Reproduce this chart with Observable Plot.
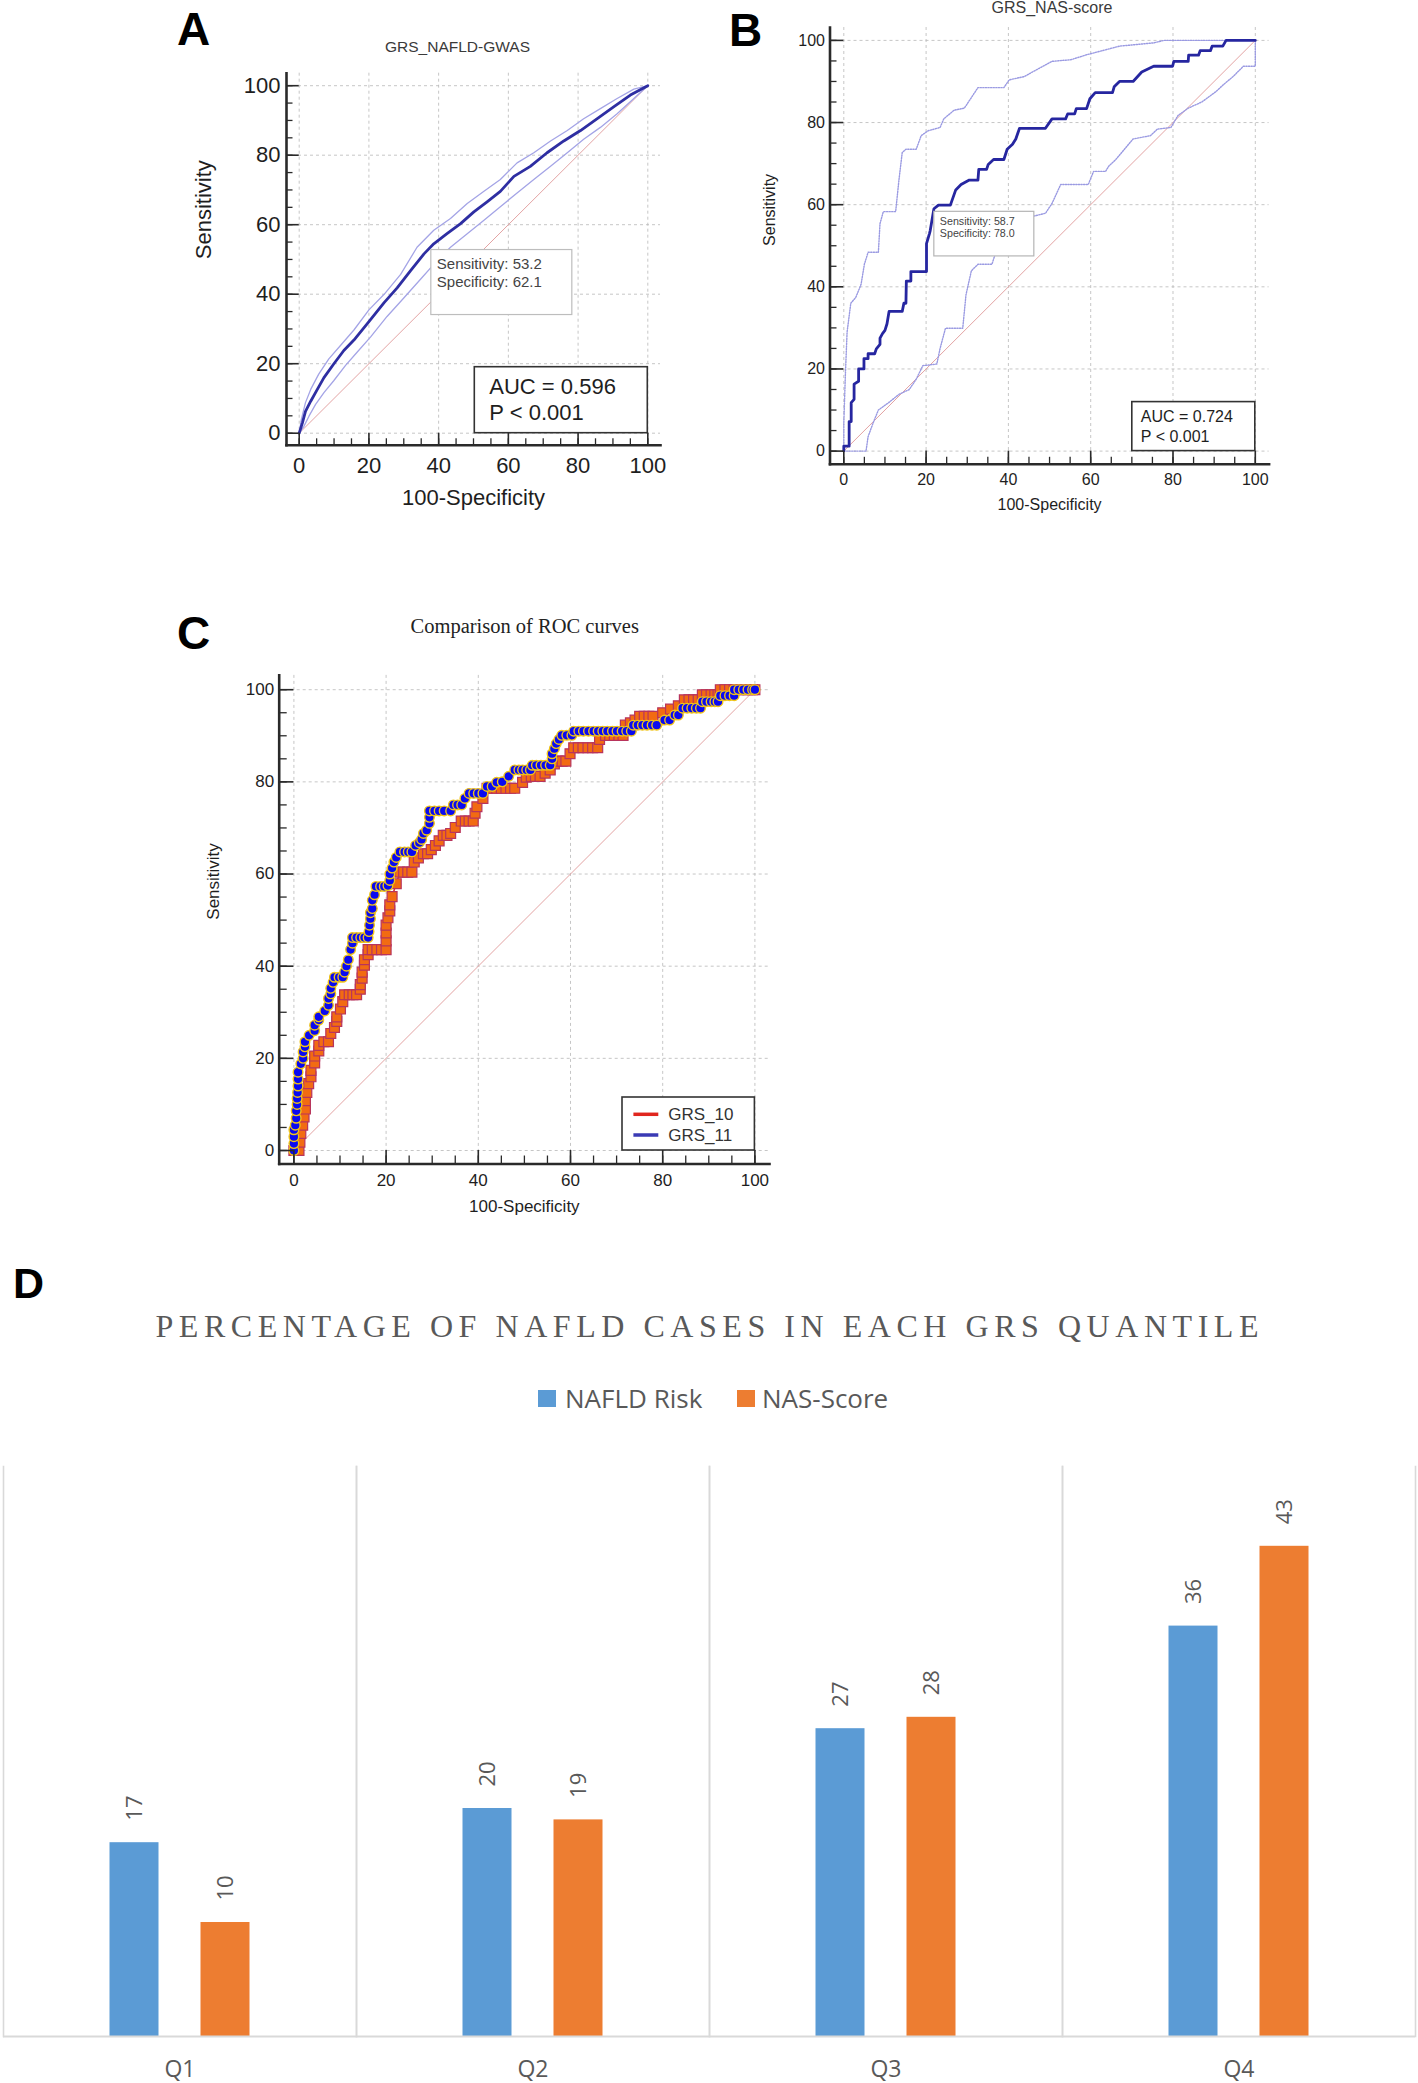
<!DOCTYPE html>
<html><head><meta charset="utf-8">
<script src="https://cdn.jsdelivr.net/npm/d3@7"></script>
<script src="https://cdn.jsdelivr.net/npm/@observablehq/plot@0.6"></script>
<style>
html,body{margin:0;padding:0;background:#fff;}
#root{position:relative;width:1418px;height:2083px;overflow:hidden;background:#fff;}
#root svg{position:absolute;max-width:none;}
</style></head>
<body><div id="root"></div>
<script>
// ================= DATA =================
const majorTicks = [0, 20, 40, 60, 80, 100];
const minorTicks = [0, 5, 10, 15, 20, 25, 30, 35, 40, 45, 50, 55, 60, 65, 70, 75, 80, 85, 90, 95, 100];
const diagonal = [[0, 0], [100, 100]];

// Panel A: GRS_NAFLD-GWAS  (x = 100-Specificity, y = Sensitivity)
const aTitle = "GRS_NAFLD-GWAS";
const aMain = [[0,0],[0.9,2.9],[1.8,6.3],[3.3,9.2],[5.2,12.6],[7.1,16],[9.9,19.9],[12.8,23.8],[15.7,26.8],[20,32.1],[24.3,37.5],[28.1,41.8],[31.9,46.7],[35.8,51.6],[38.6,54.5],[42.4,57.4],[46.3,60.3],[50.1,63.7],[53.9,66.6],[57.7,69.6],[61.6,73.9],[66.3,76.8],[71.1,80.7],[75.9,84.1],[80.7,87.1],[85.5,90.5],[90.2,93.9],[95,97.3],[100,100]];
const aUpper = [[0,0],[0.6,3.9],[1.8,8.8],[3.3,12.6],[5.6,17],[8.5,21.4],[11.9,25.3],[15.7,29.7],[20,35.5],[24.3,39.9],[29.1,45.7],[33.8,53.5],[38.6,58.4],[43.4,61.8],[48.2,66.1],[53,69.6],[57.7,73],[62.5,77.8],[67.3,80.7],[72.1,84.1],[76.9,87.1],[81.6,90.5],[86.4,93.4],[91.2,96.3],[96,99],[100,100]];
const aLower = [[0,0],[1.3,1.9],[2.8,4.9],[4.7,8.3],[7.1,11.7],[9.9,15.1],[13.3,19.5],[16.6,23.3],[20.5,27.7],[25.2,33.6],[30,38.9],[34.8,44.3],[38.6,48.6],[43.4,53.5],[48.2,57.4],[53,61.3],[57.7,65.2],[62.5,69.1],[67.3,73],[72.1,76.8],[76.9,80.7],[81.6,84.6],[86.4,88],[91.2,91.9],[96,96.3],[100,100]];
const aCutoff = [37.9, 53.2];            // [100-specificity, sensitivity]
const aCutoffText = ["Sensitivity: 53.2", "Specificity: 62.1"];
const aAucText = ["AUC = 0.596", "P < 0.001"];

// Panel B: GRS_NAS-score
const bTitle = "GRS_NAS-score";
const bMain = [[0,0],[0,1.2],[1.3,1.2],[1.3,7.2],[1.8,7.2],[1.8,11.8],[2.5,12.6],[2.5,16.3],[3.6,17],[3.6,20],[4.9,20],[4.9,22.5],[5.9,22.5],[5.9,23.7],[7.5,23.7],[7.9,24.9],[8.8,26],[8.8,27.5],[9.4,28.6],[10,29.4],[10.5,31],[11,34],[14.2,34],[14.6,36],[15.1,36],[15.2,41.4],[16.3,41.4],[16.3,43.7],[20.1,43.7],[20.1,50.5],[20.8,52.9],[21,53.7],[21.9,59],[23,59.9],[25.9,59.9],[27.2,63.6],[28.5,64.9],[30.5,66],[32.6,66],[32.8,68.6],[34.7,68.6],[35.1,69.8],[36.4,71],[38.9,71],[39.7,73.5],[41,74.7],[41.8,76],[42.7,78.6],[49,78.6],[50.6,80.9],[53.9,80.9],[54.4,82.1],[56.1,82.1],[56.5,83.4],[59,83.4],[59.8,85.8],[61.1,87.3],[65.3,87.3],[65.7,88.7],[67,90],[70.3,90],[72.4,92.3],[75.3,93.7],[79.9,93.7],[80.2,94.9],[83.7,94.9],[83.8,96.4],[86.2,96.4],[86.6,97.5],[89.1,97.5],[89.5,98.6],[92.1,98.6],[92.9,100],[100,100]];
const bUpper = [[0,0],[0,6.8],[0.4,19],[0.8,29],[1.7,36],[2.9,37.4],[4.2,40.6],[5,45.5],[5.9,48.4],[8.4,48.4],[8.8,55.4],[9.6,58.3],[12.6,58.3],[13.4,66],[14.2,72.7],[15.1,73.5],[17.6,73.5],[18.8,76.8],[20.5,78],[23.4,78.8],[24.3,80.9],[26.8,83],[29.3,83.5],[32.6,88.5],[38.9,88.5],[40.2,90.4],[43.9,91.2],[46,92.4],[50.6,94.9],[55.2,95.3],[59,96.5],[62.8,97.5],[67,98.6],[75.3,99.4],[77.8,100],[100,100]];
const bLower = [[0,0],[5.4,0],[5.9,3.5],[7.1,6.8],[8.4,10],[10.9,11.8],[13.4,13.8],[15.9,15],[17.6,17.5],[19.2,20.8],[22.6,21.2],[23.4,25],[24.7,29.9],[28.9,29.9],[29.7,38.1],[31,43.9],[32.6,45.5],[36,45.5],[36.8,48],[39.3,50.5],[41.8,52.1],[45.2,57],[49,57.9],[50.6,60.3],[52.7,64.9],[59.4,64.9],[60.7,68.1],[63.6,68.1],[64.4,69.4],[66.1,71],[68.2,73.5],[70.3,76],[74.5,76.8],[76.2,78.4],[79.5,78.8],[81.2,81.7],[83.7,83.5],[87,85],[90.4,87.5],[92.1,89.1],[94.6,91.2],[97.1,93.7],[100,93.7],[100,100]];
const bCutoff = [22.0, 58.7];
const bCutoffText = ["Sensitivity: 58.7", "Specificity: 78.0"];
const bAucText = ["AUC = 0.724", "P < 0.001"];

// Panel C: Comparison of ROC curves
const cTitle = "Comparison of ROC curves";
const cNames = ["GRS_10", "GRS_11"];
const grs10 = [[0,0],[1.1,0],[1.3,1.8],[1.5,3.7],[1.9,5.5],[2.2,7.3],[2.5,9],[2.5,10.8],[2.8,12.6],[3.2,14.5],[3.7,16],[3.7,17.4],[4.5,19],[4.5,20.5],[5.4,21.6],[5.4,22.8],[6.5,23.6],[7.5,23.6],[8,25.4],[8.8,26.7],[9.3,28],[9.3,29],[10.1,30.7],[10.6,32.3],[11,33.8],[12,33.8],[12.8,33.8],[13.6,33.8],[14.4,35],[14.4,36],[14.8,37.4],[14.8,38.7],[15.3,40.2],[15.3,41.4],[16.1,42.5],[16.1,43.6],[17,43.6],[18,43.6],[19,43.6],[20,43.6],[20,45.5],[20,47.2],[20,48.9],[20.4,50.5],[20.8,52],[20.8,53.3],[21.3,55.1],[22.2,57.9],[23,60.4],[23.8,60.4],[24.7,60.4],[25.6,60.4],[26.1,62.6],[27,63.5],[28.1,64.4],[29,64.4],[29.8,65.3],[30.7,66.2],[31.5,67.2],[32.4,68.4],[33.2,68.4],[34,68.8],[35,70.1],[36.3,71.5],[37.2,71.5],[38,71.5],[38.9,71.5],[39.3,73.2],[39.7,74.6],[41,76.4],[41.9,78.6],[43,78.6],[44,78.6],[45,78.6],[46,78.6],[47,78.6],[47.9,78.6],[49.6,79.9],[50.4,81],[51.5,81.2],[52.4,81.2],[53.4,81.2],[54.5,81.9],[55.6,82.6],[56.5,83.9],[57.3,84.5],[58.2,84.5],[59,84.5],[59.9,86.1],[60.7,87.4],[61.7,87.4],[62.7,87.4],[63.8,87.4],[64.8,87.4],[65.9,87.4],[66.3,89.2],[67.6,90.1],[68.5,90.1],[69.5,90.1],[70.5,90.1],[71.4,90.1],[71.9,92.3],[73,92.8],[74,93.4],[75,94.2],[76,94.2],[77,94.2],[77.9,94.2],[80,95],[81.7,95.8],[83.4,96.5],[84.7,97.8],[85.7,97.8],[86.7,97.8],[87.7,97.8],[88.6,98.9],[89.5,98.9],[90.5,98.9],[91.3,98.9],[92,98.9],[92.5,100],[93.5,100],[94.5,100],[95.5,100],[96.5,100],[97.5,100],[98.5,100],[99.5,100],[100,100]];
const grs11 = [[0,0],[0,1.5],[0,3],[0,4.5],[0.3,5.5],[0.5,7],[0.5,8.6],[0.7,10],[0.7,11.3],[0.8,12.6],[0.9,14],[0.9,15.5],[0.9,17],[1.5,18.8],[2,20],[2,21.4],[2.4,22.5],[2.4,23.6],[3.3,25],[4.5,26],[4.5,27.2],[5.4,28.3],[5.4,29],[6.7,30.3],[7.5,31.5],[7.5,33],[8,34],[8,35.2],[8.5,36.5],[8.8,37.6],[9.8,37.6],[10.6,37.6],[11,38.7],[11.4,40],[11.8,41.4],[12.3,43.6],[12.7,45],[12.7,46.2],[13.6,46.2],[14.5,46.2],[15.3,46.2],[16.1,46.2],[16.3,47.5],[16.4,48.9],[16.6,50.3],[16.6,51.6],[17,52.5],[17,54.3],[17.5,55.5],[17.8,57.3],[18.8,57.3],[19.6,57.3],[20.4,57.5],[20.8,58.6],[20.8,60],[21.3,61.3],[21.7,62.6],[22.2,63.6],[23,64.8],[24,64.8],[24.8,64.8],[25.6,64.8],[26.4,66.2],[27.2,66.8],[27.7,67.5],[28.1,68.8],[28.8,69.5],[29.4,71],[29.4,72.3],[29.4,73.7],[30.5,73.7],[31.5,73.7],[32.6,73.7],[34,73.7],[34.6,75],[35.5,75],[36.4,75],[37.1,76.4],[38,77.5],[39,77.5],[40,77.5],[41,77.5],[41.9,79],[43,79],[44,79.9],[45.2,80],[46.6,81.2],[47.9,82.6],[48.8,82.6],[49.6,82.6],[50.5,82.6],[51.3,82.6],[51.7,83.6],[52.6,83.6],[53.6,83.6],[54.6,83.6],[55.6,83.6],[56,85],[56,86.1],[56.5,87.2],[56.9,88.3],[57.5,89.2],[58.1,90.1],[59.2,90.1],[60.3,90.1],[60.7,91],[61.8,91],[62.8,91],[63.9,91],[65,91],[66,91],[67,91],[68,91],[69.1,91],[70.1,91],[71.2,91],[72.2,91],[73.2,91],[73.6,92.3],[74.6,92.3],[75.6,92.3],[76.6,92.3],[77.7,92.3],[78.7,92.3],[80.4,93.4],[81.5,93.4],[82.6,94.5],[83.4,94.5],[84.3,96],[85.3,96],[86.3,96],[87.3,96],[88.2,96],[88.6,97.4],[89.5,97.4],[90.5,97.4],[91.3,97.4],[92,97.4],[92.5,98.7],[93.5,98.7],[94.5,98.7],[95.5,98.7],[95.5,100],[96.5,100],[97.5,100],[98.5,100],[99.5,100],[100,100]];

// Panel D: bar chart
const dTitle = "PERCENTAGE OF NAFLD CASES IN EACH GRS QUANTILE";
const quantiles = ["Q1", "Q2", "Q3", "Q4"];
const seriesNames = ["NAFLD Risk", "NAS-Score"];
const nafldRisk = [17, 20, 27, 36];
const nasScore = [10, 19, 28, 43];
const seriesColors = ["#5B9BD5", "#ED7D31"];

// ================= HELPERS =================
const root = document.getElementById("root");
const pts = arr => arr.map(([x, y]) => ({x, y}));

function boxMark({ax, ay, corner, w, h, dy = 0, lines, tx, tys, fontSize, stroke, strokeWidth, textFill, legend}) {
  return (index, scales) => {
    const px = scales.x(ax), py = scales.y(ay);
    const left = corner === "tl" ? px : px - w;
    const top = corner === "tl" ? py + dy : py - h;
    const g = d3.create("svg:g");
    g.append("rect").attr("x", left).attr("y", top).attr("width", w).attr("height", h)
      .attr("fill", "#fff").attr("stroke", stroke).attr("stroke-width", strokeWidth);
    lines.forEach((t, i) => {
      if (legend) {
        g.append("line").attr("x1", left + legend.x1).attr("x2", left + legend.x2)
          .attr("y1", top + legend.ys[i]).attr("y2", top + legend.ys[i])
          .attr("stroke", legend.colors[i]).attr("stroke-width", 3.5);
      }
      g.append("text").attr("x", left + tx).attr("y", top + tys[i])
        .attr("font-size", fontSize).attr("fill", textFill).attr("text-anchor", "start")
        .text(t);
    });
    return g.node();
  };
}

function rocPanel(cfg) {
  const {L, T, W, H, frame: [fl, ft, fr, fb], inset: [il, it, ir, ib], tickFont, padY, padX,
    labelFont, yLabelDx, xLabelDy, minorLen, marks} = cfg;
  const gridStyle = {stroke: "#b8b8b8", strokeOpacity: 0.9, strokeDasharray: "3,3", strokeWidth: 0.9};
  const plot = Plot.plot({
    width: W, height: H,
    marginLeft: fl - L, marginTop: ft - T, marginRight: L + W - fr, marginBottom: T + H - fb,
    x: {domain: [0, 100], insetLeft: il, insetRight: ir, axis: null},
    y: {domain: [0, 100], insetTop: it, insetBottom: ib, axis: null},
    style: {fontFamily: "'Liberation Sans', Arial, sans-serif", background: "transparent", overflow: "visible", color: "#222"},
    marks: [
      Plot.gridX(majorTicks, gridStyle),
      Plot.gridY(majorTicks, gridStyle),
      Plot.line(pts(diagonal), {x: "x", y: "y", stroke: "#e3a3a3", strokeWidth: 1}),
      ...marks,
      Plot.frame({anchor: "left", stroke: "#2a2a2a", strokeWidth: 2.6}),
      Plot.frame({anchor: "bottom", stroke: "#2a2a2a", strokeWidth: 2.6}),
      Plot.axisY(majorTicks, {anchor: "left", tickSize: il, dx: il, tickFormat: () => "", label: null, stroke: "#2a2a2a", strokeWidth: 1.6}),
      Plot.axisY(minorTicks, {anchor: "left", tickSize: minorLen, dx: minorLen, tickFormat: () => "", label: null, stroke: "#2a2a2a", strokeWidth: 1.3}),
      Plot.axisX(majorTicks, {anchor: "bottom", tickSize: ib, dy: -ib, tickFormat: () => "", label: null, stroke: "#2a2a2a", strokeWidth: 1.6}),
      Plot.axisX(minorTicks, {anchor: "bottom", tickSize: minorLen, dy: -minorLen, tickFormat: () => "", label: null, stroke: "#2a2a2a", strokeWidth: 1.3}),
      Plot.axisY(majorTicks, {anchor: "left", tickSize: 0, tickPadding: padY, fontSize: tickFont, fill: "#1e1e1e", label: null}),
      Plot.axisX(majorTicks, {anchor: "bottom", tickSize: 0, tickPadding: padX, fontSize: tickFont, fill: "#1e1e1e", label: null}),
      Plot.text(["Sensitivity"], {text: d => d, frameAnchor: "left", dx: yLabelDx, rotate: -90, fontSize: labelFont, fill: "#1e1e1e"}),
      Plot.text(["100-Specificity"], {text: d => d, frameAnchor: "bottom", dy: xLabelDy, fontSize: labelFont, fill: "#1e1e1e"})
    ]
  });
  plot.style.left = L + "px";
  plot.style.top = T + "px";
  root.append(plot);
}

// ================= PANEL A =================
rocPanel({
  L: 150, T: 40, W: 530, H: 490,
  frame: [286, 72.7, 660, 444.8], inset: [12.7, 12.5, 12.7, 12.1],
  tickFont: 22, padY: 6, padX: 12, labelFont: 22, yLabelDx: -82.7, xLabelDy: 60, minorLen: 6.5,
  marks: [
    Plot.line(pts(aUpper), {x: "x", y: "y", stroke: "#a4a4e6", strokeWidth: 1.3}),
    Plot.line(pts(aLower), {x: "x", y: "y", stroke: "#a4a4e6", strokeWidth: 1.3}),
    Plot.line(pts(aMain), {x: "x", y: "y", stroke: "#2e2ea2", strokeWidth: 2.8}),
    boxMark({ax: aCutoff[0], ay: aCutoff[1], corner: "tl", w: 141, h: 65, dy: 1.7, lines: aCutoffText,
      tx: 6, tys: [19, 37.6], fontSize: 15, stroke: "#bdbdbd", strokeWidth: 1.2, textFill: "#444"}),
    boxMark({ax: 100, ay: 0, corner: "br", w: 173, h: 66, lines: aAucText,
      tx: 15, tys: [27, 53.4], fontSize: 22, stroke: "#333", strokeWidth: 1.6, textFill: "#1e1e1e"})
  ]
});

// ================= PANEL B =================
rocPanel({
  L: 740, T: 0, W: 560, H: 540,
  frame: [829.5, 27, 1268.6, 463.8], inset: [13.8, 12.9, 13.8, 13.2],
  tickFont: 16, padY: 5, padX: 9.5, labelFont: 16, yLabelDx: -60.2, xLabelDy: 45.5, minorLen: 7,
  marks: [
    Plot.line(pts(bUpper), {x: "x", y: "y", stroke: "#9a9ae2", strokeWidth: 1.4, strokeDasharray: "1.2,1.4"}),
    Plot.line(pts(bLower), {x: "x", y: "y", stroke: "#9a9ae2", strokeWidth: 1.4, strokeDasharray: "1.2,1.4"}),
    Plot.line(pts(bMain), {x: "x", y: "y", stroke: "#2626a0", strokeWidth: 2.8}),
    boxMark({ax: bCutoff[0], ay: bCutoff[1], corner: "tl", w: 100, h: 44.6, dy: 1.8, lines: bCutoffText,
      tx: 6, tys: [13.5, 25.3], fontSize: 10.7, stroke: "#b5b5b5", strokeWidth: 1.2, textFill: "#444"}),
    boxMark({ax: 100, ay: 0, corner: "br", w: 123, h: 49, lines: bAucText,
      tx: 9, tys: [20.3, 40], fontSize: 16, stroke: "#333", strokeWidth: 1.6, textFill: "#1e1e1e"})
  ]
});

// ================= PANEL C =================
rocPanel({
  L: 170, T: 650, W: 640, H: 600,
  frame: [278.7, 674.9, 769, 1163.5], inset: [14.7, 14.3, 14.6, 13.5],
  tickFont: 17, padY: 5, padX: 10, labelFont: 17, yLabelDx: -65.2, xLabelDy: 47.5, minorLen: 8,
  marks: [
    Plot.line(pts(grs10), {x: "x", y: "y", stroke: "#e0261e", strokeWidth: 1.5}),
    Plot.dot(pts(grs10), {x: "x", y: "y", symbol: "square", r: 5.6, fill: "#f26b12", stroke: "#b8345c", strokeWidth: 1.2}),
    Plot.line(pts(grs11), {x: "x", y: "y", stroke: "#2a2ac8", strokeWidth: 1.5}),
    Plot.dot(pts(grs11), {x: "x", y: "y", symbol: "circle", r: 4.8, fill: "#0a0af0", stroke: "#f0c418", strokeWidth: 1.4}),
    boxMark({ax: 100, ay: 0, corner: "br", w: 132.4, h: 53, lines: cNames,
      tx: 46.2, tys: [23.3, 44], fontSize: 17, stroke: "#333", strokeWidth: 1.6, textFill: "#333",
      legend: {x1: 11.4, x2: 36.3, ys: [17.3, 38], colors: ["#e0261e", "#3a3ab4"]}})
  ]
});

// ================= PANEL D =================
const barData = quantiles.flatMap((q, i) => [
  {q, s: seriesNames[0], v: nafldRisk[i]},
  {q, s: seriesNames[1], v: nasScore[i]}
]);
const dPlot = Plot.plot({
  width: 1418, height: 643,
  marginLeft: 2.5, marginRight: 3, marginTop: 26, marginBottom: 47,
  fx: {domain: quantiles, padding: 0, label: null, axis: null},
  x: {domain: seriesNames, paddingInner: 0.467, paddingOuter: 1.167, axis: null},
  y: {domain: [0, 50], axis: null},
  color: {domain: seriesNames, range: seriesColors},
  style: {fontFamily: "'Open Sans', sans-serif", background: "transparent", overflow: "visible"},
  marks: [
    Plot.frame({anchor: "left", stroke: "#d9d9d9", strokeWidth: 1.6}),
    Plot.frame({anchor: "right", stroke: "#d9d9d9", strokeWidth: 1.6}),
    Plot.barY(barData, {fx: "q", x: "s", y: "v", fill: "s"}),
    Plot.ruleY([0], {stroke: "#d9d9d9", strokeWidth: 2.2}),
    Plot.text(barData, {fx: "q", x: "s", y: "v", text: d => String(d.v), rotate: -90, textAnchor: "start",
      dy: -22, fill: "#595959", fontSize: 22}),
    Plot.axisFx({anchor: "bottom", tickSize: 0, tickPadding: 24, fontSize: 23, fill: "#595959", label: null})
  ]
});
dPlot.style.left = "0px";
dPlot.style.top = "1440px";
root.append(dPlot);

// ================= TITLES, PANEL LETTERS, LEGEND =================
const ov = d3.create("svg").attr("width", 1418).attr("height", 2083)
  .style("left", "0px").style("top", "0px").style("pointer-events", "none");
function txt(t, x, y, o = {}) {
  const e = ov.append("text").attr("x", x).attr("y", y).text(t)
    .attr("font-family", o.family || "'Liberation Sans', Arial, sans-serif")
    .attr("font-size", o.size || 16).attr("fill", o.fill || "#222")
    .attr("text-anchor", o.anchor || "start");
  if (o.weight) e.attr("font-weight", o.weight);
  if (o.length) e.attr("textLength", o.length).attr("lengthAdjust", "spacing");
  return e;
}
const letters = [["A", 177, 45], ["B", 729, 45.6], ["C", 177, 649]];
letters.forEach(([t, x, y]) => txt(t, x, y, {size: 46, weight: "bold", fill: "#000"}));
txt("D", 13, 1298, {size: 43, weight: "bold", fill: "#000"});
txt(aTitle, 457.5, 51.7, {size: 15.5, anchor: "middle", fill: "#3a3a3a"});
txt(bTitle, 1052, 12.8, {size: 16, anchor: "middle", fill: "#3a3a3a"});
txt(cTitle, 524.7, 632.9, {size: 20.5, anchor: "middle", fill: "#222", family: "'Liberation Serif', 'Times New Roman', serif"});
txt(dTitle, 155.5, 1336.7, {size: 32, fill: "#595959", family: "'Liberation Serif', 'Times New Roman', serif", length: 1103});
// legend for D
const legendPos = [[538, 565], [737, 762]];
seriesNames.forEach((name, i) => {
  ov.append("rect").attr("x", legendPos[i][0]).attr("y", 1390).attr("width", 18).attr("height", 17).attr("fill", seriesColors[i]);
  txt(name, legendPos[i][1], 1407.5, {size: 26, fill: "#595959", family: "'Open Sans', sans-serif"});
});
root.append(ov.node());
</script>
</body></html>
